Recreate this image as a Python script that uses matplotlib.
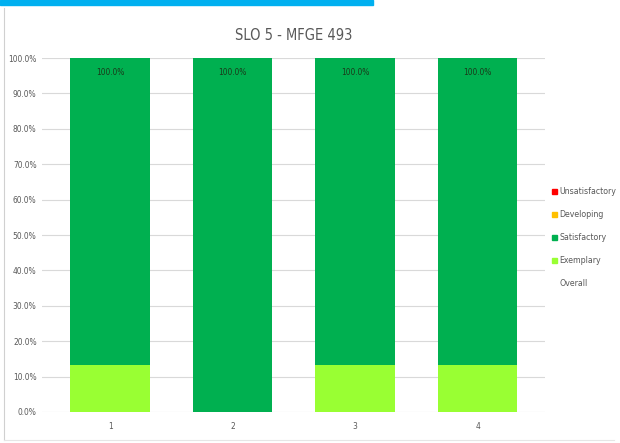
import matplotlib.pyplot as plt
from matplotlib.lines import Line2D
from matplotlib.patches import Patch
import numpy as np

plt.rcParams['font.family'] = ['DejaVu Sans']
plt.rcParams['font.stretch'] = 'condensed'

groups = ['1', '2', '3', '4']
unsatisfactory = [0.0, 0.0, 0.0, 0.0]
developing = [0.0, 0.0, 0.0, 0.0]
exemplary = [13.3, 0.0, 13.3, 13.3]
satisfactory = [86.7, 100.0, 86.7, 86.7]
overall = [100.0, 100.0, 100.0, 100.0]

c_unsat = '#FF0000'
c_dev = '#FFC000'
c_sat = '#00B050'
c_exe = '#99FF33'

fig = plt.figure(figsize=(6.2, 4.43), dpi=100)
ax = fig.add_axes([0.068, 0.070, 0.811, 0.799])

x = np.arange(1, len(groups) + 1)
w = 0.65
ax.bar(x, exemplary, w, color=c_exe, zorder=2)
ax.bar(x, satisfactory, w, bottom=exemplary, color=c_sat, zorder=2)
bot = np.array(exemplary) + np.array(satisfactory)
ax.bar(x, developing, w, bottom=bot, color=c_dev, zorder=2)
ax.bar(x, unsatisfactory, w, bottom=bot + np.array(developing), color=c_unsat, zorder=2)

# overall value written near the top of each stack
for xi, v in zip(x, overall):
    ax.text(xi, v - 4, f'{v:.1f}%', ha='center', va='center', fontsize=6, color='#1a3a1a', zorder=3)

ax.set_xlim(0.445, 4.55)
ax.set_ylim(0, 100)
ax.set_yticks(np.arange(0, 101, 10))
ax.set_yticklabels([f'{t:.1f}%' for t in np.arange(0, 101, 10)])
ax.set_xticks(x)
ax.set_xticklabels(groups)
ax.tick_params(length=0, labelsize=6, colors='#595959', pad=4)
ax.tick_params(axis='x', pad=7)
ax.grid(axis='y', color='#d9d9d9', linewidth=0.8, zorder=0)
for s in ax.spines.values():
    s.set_visible(False)

ax.set_title('SLO 5 - MFGE 493', fontsize=10.5, color='#595959', pad=13)

handles = [Patch(color=c_unsat), Patch(color=c_dev), Patch(color=c_sat), Patch(color=c_exe),
           Line2D([], [], color='none')]
labels = ['Unsatisfactory', 'Developing', 'Satisfactory', 'Exemplary', 'Overall']
fig.legend(handles, labels, loc='center left', bbox_to_anchor=(0.877, 0.463), frameon=False,
           fontsize=6.3, labelcolor='#595959', handlelength=0.6, handleheight=0.6,
           handletextpad=0.3, labelspacing=1.6)

# header strip and chart frame
fig.patches.append(plt.Rectangle((0, 0.989), 0.602, 0.011, transform=fig.transFigure,
                                 color='#00B0F0', zorder=5))
fig.add_artist(Line2D([0.007, 0.007], [0.007, 0.983], transform=fig.transFigure,
                      color='#d0d0d0', linewidth=0.8))
fig.add_artist(Line2D([0.007, 0.99], [0.007, 0.007], transform=fig.transFigure,
                      color='#e6e6e6', linewidth=0.8))

fig.savefig('out.png', dpi=100)
